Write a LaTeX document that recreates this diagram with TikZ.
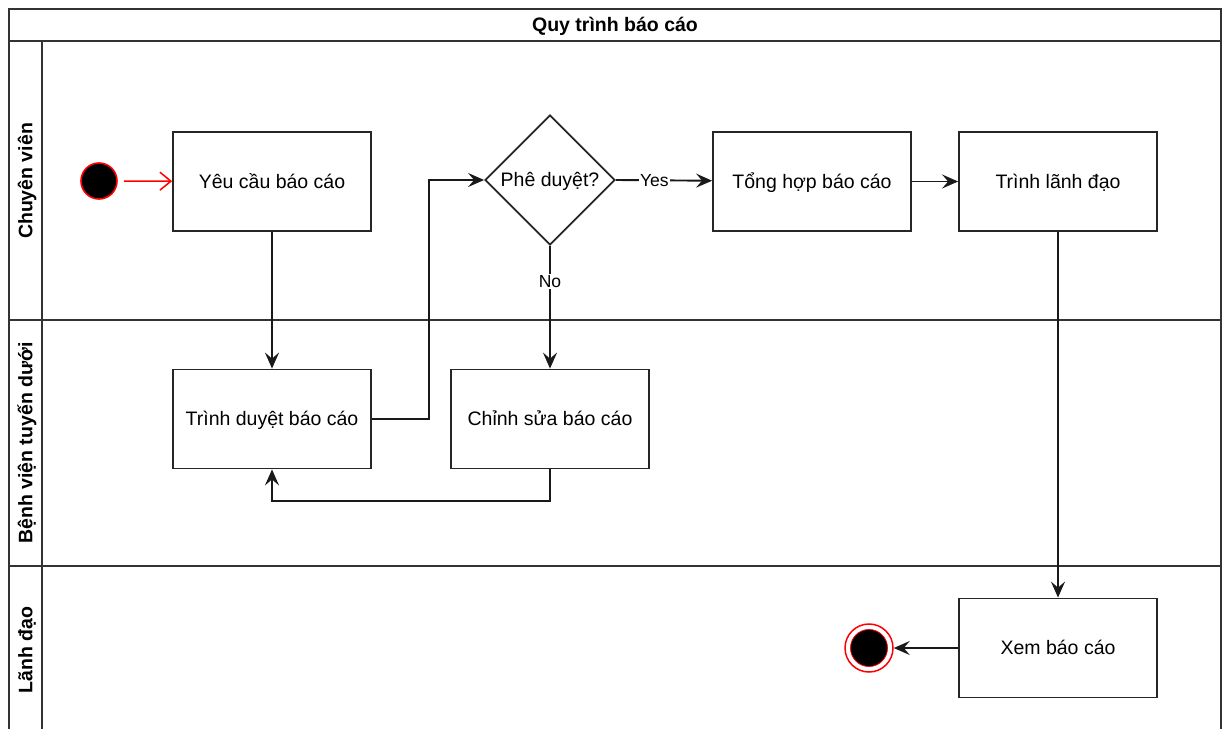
\documentclass[tikz,border=0pt]{standalone}
\usepackage{fontspec}
\setmainfont{Liberation Sans}
\usetikzlibrary{shapes.geometric,arrows.meta}
\begin{document}
\begin{tikzpicture}[x=1pt,y=-1pt,
  every node/.style={font=\fontsize{19.5}{23}\selectfont,text height=13.5pt,text depth=0pt},
  frame/.style={draw=black!80,line width=1.8pt},
  lanelabel/.style={rotate=90,font=\fontsize{19.5}{23}\selectfont\bfseries},
  action/.style={draw=black!85,line width=1.8pt,fill=white,minimum width=198pt,minimum height=99pt,inner sep=0pt},
  decision/.style={draw=black!85,line width=1.8pt,fill=white,diamond,aspect=1,minimum width=130pt,minimum height=130pt,inner sep=0pt},
  startnode/.style={circle,fill=black,draw=red,line width=1.6pt,minimum size=36pt,inner sep=0pt},
  flow/.style={draw=black!90,line width=1.9pt,-{Stealth[length=16pt,width=14pt,inset=6pt]}},
  startflow/.style={draw=red,line width=1.5pt,shorten <=6pt,-{Straight Barb[length=11pt,width=18pt]}},
  edgelabel/.style={fill=white,inner sep=1pt,font=\fontsize{17.5}{20}\selectfont,text height=12.5pt}]
\useasboundingbox (0,0) rectangle (1225,728);
\fill[white] (0,0) rectangle (1225,728);

% pool frame, header and lanes
\draw[frame] (9,736) -- (9,9) -- (1221,9) -- (1221,736);
\draw[frame] (9,41) -- (1221,41);
\draw[frame] (42,41) -- (42,736);
\draw[frame] (9,320) -- (1221,320);
\draw[frame] (9,566) -- (1221,566);
\node[font=\fontsize{19.5}{23}\selectfont\bfseries] (title) at (615,25) {Quy trình báo cáo};
\node[lanelabel] (lane1) at (25.5,181) {Chuyên viên};
\node[lanelabel] (lane2) at (25.5,443) {Bệnh viện tuyến dưới};
\node[lanelabel] (lane3) at (25.5,650) {Lãnh đạo};

% activities
\node[startnode] (start) at (99,181) {};
\node[action] (yc) at (272,181.5) {Yêu cầu báo cáo};
\node[decision] (pd) at (550,180) {Phê duyệt?};
\node[action] (th) at (812,181.5) {Tổng hợp báo cáo};
\node[action] (tl) at (1058,181.5) {Trình lãnh đạo};
\node[action] (td) at (272,419) {Trình duyệt báo cáo};
\node[action] (cs) at (550,419) {Chỉnh sửa báo cáo};
\node[action] (xm) at (1058,648) {Xem báo cáo};
\node[circle,draw=red,fill=white,line width=1.5pt,minimum size=48pt,inner sep=0pt] (endo) at (869,648) {};
\node[circle,fill=black,draw=red,line width=0.8pt,minimum size=37pt,inner sep=0pt] (endi) at (869,648) {};

% flows
\draw[startflow] (start) -- (yc);
\draw[flow] (yc) -- (td);
\draw[flow] (td.east) -- ++(57,0) |- (pd.west);
\draw[flow] (pd.east) -- node[edgelabel,pos=0.4] {Yes} (th);
\draw[flow] (pd.south) -- node[edgelabel,pos=0.29] {No} (cs);
\draw[flow] (cs.south) -- ++(0,32) -| (td.south);
\draw[flow] (th) -- (tl);
\draw[flow] (tl) -- (xm);
\draw[flow] (xm) -- (endo);
\end{tikzpicture}
\end{document}
